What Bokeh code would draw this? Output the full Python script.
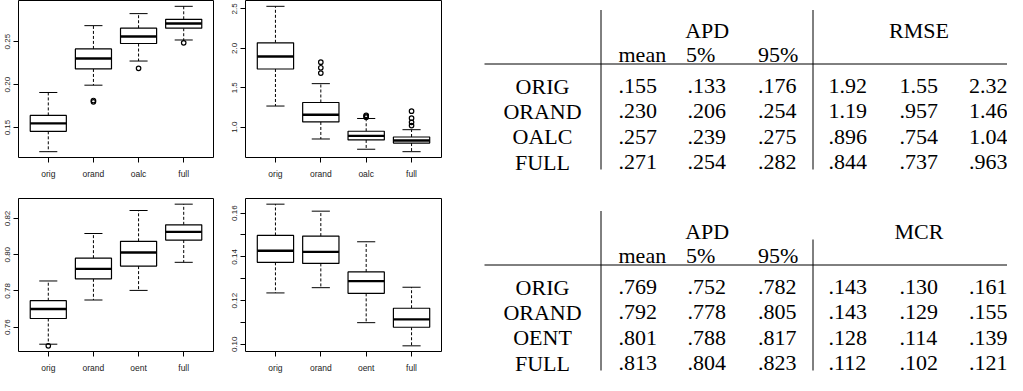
from bokeh.plotting import figure
from bokeh.models import Range1d, FixedTicker, PrintfTickFormatter, ColumnDataSource, Label
from bokeh.layouts import row, column
from bokeh.embed import file_html
from bokeh.resources import INLINE

# ---------------- data ----------------
groups_top = ["orig", "orand", "oalc", "full"]
groups_bot = ["orig", "orand", "oent", "full"]

# top-left: APD (first data set)
apd1_lo  = [0.1219, 0.1993, 0.2274, 0.2519]
apd1_q1  = [0.1456, 0.2182, 0.2478, 0.2656]
apd1_med = [0.1548, 0.2304, 0.2560, 0.2711]
apd1_q3  = [0.1641, 0.2415, 0.2656, 0.2760]
apd1_hi  = [0.1908, 0.2686, 0.2826, 0.2911]
apd1_out_grp = [2, 2, 3, 4]
apd1_out_val = [0.1815, 0.1799, 0.2189, 0.2486]

# top-middle: RMSE
rmse_lo  = [1.268, 0.850, 0.720, 0.689]
rmse_q1  = [1.738, 1.066, 0.838, 0.798]
rmse_med = [1.897, 1.158, 0.890, 0.830]
rmse_q3  = [2.070, 1.313, 0.948, 0.875]
rmse_hi  = [2.533, 1.552, 1.110, 0.968]
rmse_out_grp = [2, 2, 2, 3, 3, 3, 4, 4, 4, 4]
rmse_out_val = [1.686, 1.754, 1.824, 1.127, 1.140, 1.151, 1.020, 1.061, 1.114, 1.203]

# bottom-left: APD (second data set)
apd2_lo  = [0.7506, 0.7750, 0.7803, 0.7958]
apd2_q1  = [0.7648, 0.7867, 0.7937, 0.8081]
apd2_med = [0.7700, 0.7922, 0.8012, 0.8126]
apd2_q3  = [0.7746, 0.7981, 0.8074, 0.8165]
apd2_hi  = [0.7855, 0.8117, 0.8244, 0.8279]
apd2_out_grp = [1]
apd2_out_val = [0.7497]

# bottom-middle: MCR
mcr_lo  = [0.1235, 0.1259, 0.1099, 0.0993]
mcr_q1  = [0.1375, 0.1370, 0.1233, 0.1078]
mcr_med = [0.1428, 0.1423, 0.1289, 0.1114]
mcr_q3  = [0.1498, 0.1495, 0.1331, 0.1165]
mcr_hi  = [0.1641, 0.1609, 0.1469, 0.1261]
mcr_out_grp = []
mcr_out_val = []

# tables
tab_groups = ["APD", "mean", "5%", "95%"]
tab1_rows = ["ORIG", "ORAND", "OALC", "FULL"]
tab1_second = "RMSE"
tab1_apd = [[".155", ".133", ".176"], [".230", ".206", ".254"],
            [".257", ".239", ".275"], [".271", ".254", ".282"]]
tab1_rmse = [["1.92", "1.55", "2.32"], ["1.19", ".957", "1.46"],
             [".896", ".754", "1.04"], [".844", ".737", ".963"]]
tab2_rows = ["ORIG", "ORAND", "OENT", "FULL"]
tab2_second = "MCR"
tab2_apd = [[".769", ".752", ".782"], [".792", ".778", ".805"],
            [".801", ".788", ".817"], [".813", ".804", ".823"]]
tab2_mcr = [[".143", ".130", ".161"], [".143", ".129", ".155"],
            [".128", ".114", ".139"], [".112", ".102", ".121"]]

# ---------------- boxplots ----------------
SANS = "Liberation Sans"


def boxplot(groups, lo, q1, med, q3, hi, out_grp, out_val, yticks, yminor, fmt,
            width, height, mb_left, mb_right, mb_top, mb_bottom):
    allv = lo + hi + out_val
    vmin, vmax = min(allv), max(allv)
    pad = 0.04 * (vmax - vmin)
    p = figure(width=width, height=height, output_backend="svg", toolbar_location=None,
               x_range=Range1d(0.34, 4.66), y_range=Range1d(vmin - pad, vmax + pad),
               min_border_left=mb_left, min_border_right=mb_right,
               min_border_top=mb_top, min_border_bottom=mb_bottom,
               background_fill_color="white", border_fill_color="white")
    p.xgrid.visible = False
    p.ygrid.visible = False
    p.outline_line_color = "black"
    p.outline_line_width = 1
    xs = [1, 2, 3, 4]
    src = ColumnDataSource(dict(x=xs, l=[x - 0.4 for x in xs], r=[x + 0.4 for x in xs],
                                sl=[x - 0.2 for x in xs], sr=[x + 0.2 for x in xs],
                                lo=lo, q1=q1, med=med, q3=q3, hi=hi))
    p.segment(x0="x", y0="q3", x1="x", y1="hi", source=src, line_color="black",
              line_width=1, line_dash="3 2")
    p.segment(x0="x", y0="q1", x1="x", y1="lo", source=src, line_color="black",
              line_width=1, line_dash="3 2")
    p.segment(x0="sl", y0="hi", x1="sr", y1="hi", source=src, line_color="black", line_width=1)
    p.segment(x0="sl", y0="lo", x1="sr", y1="lo", source=src, line_color="black", line_width=1)
    p.quad(left="l", right="r", bottom="q1", top="q3", source=src, fill_color="white",
           line_color="black", line_width=1.2)
    p.segment(x0="l", y0="med", x1="r", y1="med", source=src, line_color="black", line_width=2.4)
    if out_val:
        p.scatter(x=out_grp, y=out_val, marker="circle", size=4.5, fill_color=None,
                  line_color="black", line_width=1.2)

    xa = p.xaxis[0]
    xa.ticker = FixedTicker(ticks=xs)
    xa.major_label_overrides = {i + 1: g for i, g in enumerate(groups)}
    xa.axis_line_color = None
    xa.major_tick_in = 0
    xa.major_tick_out = 5
    xa.major_tick_line_color = "black"
    xa.minor_tick_line_color = None
    xa.major_label_standoff = 6
    xa.major_label_text_font = SANS
    xa.major_label_text_font_size = "8.5px"
    xa.major_label_text_color = "#222222"

    ya = p.yaxis[0]
    ya.ticker = FixedTicker(ticks=yticks, minor_ticks=yminor)
    ya.formatter = PrintfTickFormatter(format=fmt)
    ya.axis_line_color = None
    ya.major_tick_in = 0
    ya.major_tick_out = 5
    ya.minor_tick_in = 0
    ya.minor_tick_out = 5
    ya.major_tick_line_color = "black"
    ya.minor_tick_line_color = "black" if yminor else None
    ya.major_label_orientation = "vertical"
    ya.major_label_standoff = 3
    ya.major_label_text_font = SANS
    ya.major_label_text_font_size = "8px"
    ya.major_label_text_color = "#222222"
    return p


p1 = boxplot(groups_top, apd1_lo, apd1_q1, apd1_med, apd1_q3, apd1_hi, apd1_out_grp, apd1_out_val,
             [0.15, 0.20, 0.25], [], "%.2f", 225, 187, 18, 12, 0, 30)
p2 = boxplot(groups_top, rmse_lo, rmse_q1, rmse_med, rmse_q3, rmse_hi, rmse_out_grp, rmse_out_val,
             [1.0, 1.5, 2.0, 2.5], [], "%.1f", 237, 187, 20, 21, 0, 30)
p3 = boxplot(groups_bot, apd2_lo, apd2_q1, apd2_med, apd2_q3, apd2_hi, apd2_out_grp, apd2_out_val,
             [0.76, 0.78, 0.80, 0.82], [], "%.2f", 225, 188, 18, 12, 11, 20)
p4 = boxplot(groups_bot, mcr_lo, mcr_q1, mcr_med, mcr_q3, mcr_hi, mcr_out_grp, mcr_out_val,
             [0.10, 0.12, 0.14, 0.16], [0.11, 0.13, 0.15], "%.2f", 237, 188, 20, 21, 11, 20)

# ---------------- tables ----------------
SERIF = "Liberation Serif"
pt = figure(width=545, height=375, output_backend="svg", toolbar_location=None,
            x_range=Range1d(470, 1015), y_range=Range1d(383, 8),
            x_axis_location=None, y_axis_location=None,
            min_border=0, min_border_left=0, min_border_right=0,
            min_border_top=0, min_border_bottom=0,
            background_fill_color="white", border_fill_color="white")
pt.outline_line_color = None
pt.xgrid.visible = False
pt.ygrid.visible = False

col_x = [626, 695, 765.5, 836, 907, 976.5]
row_label_x = 550
row_dy = 25.4


def add_text(x, y, t, align):
    pt.add_layout(Label(x=x, y=y, text=t, x_units="data", y_units="data",
                        text_align=align, text_baseline="alphabetic",
                        text_font=SERIF, text_font_size="22px", text_color="black"))


def add_table(dy, rows, apd, second_name, second, vline2_top):
    add_text(714.7, 37.5 + dy, tab_groups[0], "center")
    add_text(926.5, 37.5 + dy, second_name, "center")
    for j, h in enumerate(tab_groups[1:]):
        add_text(col_x[j] - (1.5 if j == 1 else 0), 61.7 + dy, h, "left")
    for i, r in enumerate(rows):
        yb = 93.5 + dy + i * row_dy
        add_text(row_label_x, yb, r, "center")
        for j, v in enumerate(apd[i] + second[i]):
            add_text(col_x[j], yb, v, "left")
    pt.segment(x0=[492, 608.5, 820.5], y0=[71.5 + dy, 17.5 + dy, vline2_top + dy],
               x1=[1015, 608.5, 820.5], y1=[71.5 + dy, 177 + dy, 177 + dy],
               line_color="black", line_width=1)


add_table(0, tab1_rows, tab1_apd, tab1_second, tab1_rmse, 17.5)
add_table(201, tab2_rows, tab2_apd, tab2_second, tab2_mcr, 46)

layout = row(column(p1, p3), column(p2, p4), pt)

open("out.html", "w").write(file_html(layout, INLINE))
